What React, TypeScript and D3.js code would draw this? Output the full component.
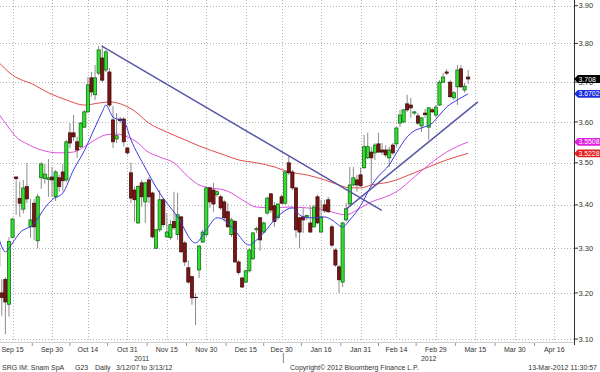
import React from "react";
import * as d3 from "d3";

// Snam SpA daily candles, index 0 = Sep 15 2011 (trading days, Dec 26 closed)
const firstIdx = -4;
const opens = [
  3.30, 3.20, 3.23, 3.175, 3.325, 3.466, 3.415, 3.39, 3.443, 3.349,
  3.404, 3.317, 3.464, 3.462, 3.46, 3.466, 3.419, 3.464, 3.478, 3.459,
  3.573, 3.573, 3.551, 3.539, 3.587, 3.625, 3.711, 3.668, 3.723, 3.762,
  3.731, 3.726, 3.605, 3.558, 3.607, 3.607, 3.536, 3.476, 3.435, 3.358,
  3.452, 3.407, 3.459, 3.428, 3.30, 3.342, 3.412, 3.326, 3.324, 3.361,
  3.331, 3.372, 3.312, 3.256, 3.236, 3.19, 3.251, 3.314, 3.331, 3.44,
  3.435, 3.424, 3.419, 3.407, 3.384, 3.331, 3.361, 3.269, 3.233, 3.224,
  3.249, 3.276, 3.342, 3.37, 3.337, 3.381, 3.426, 3.398, 3.37, 3.419,
  3.404, 3.50, 3.478, 3.44, 3.37, 3.372, 3.372, 3.358, 3.349, 3.419,
  3.337, 3.40, 3.412, 3.349, 3.296, 3.258, 3.224, 3.365, 3.402, 3.447,
  3.459, 3.471, 3.488, 3.512, 3.526, 3.524, 3.546, 3.531, 3.531, 3.512,
  3.543, 3.546, 3.597, 3.60, 3.645, 3.642, 3.622, 3.615, 3.59, 3.622,
  3.587, 3.63, 3.617, 3.642, 3.70, 3.726, 3.70, 3.66, 3.688, 3.734,
  3.68, 3.713,
];
const highs = [
  3.31, 3.23, 3.235, 3.325, 3.37, 3.467, 3.455, 3.459, 3.50, 3.414,
  3.414, 3.426, 3.502, 3.497, 3.509, 3.49, 3.483, 3.471, 3.497, 3.556,
  3.597, 3.617, 3.563, 3.60, 3.63, 3.713, 3.726, 3.744, 3.793, 3.796,
  3.783, 3.736, 3.64, 3.622, 3.612, 3.612, 3.539, 3.50, 3.443, 3.447,
  3.459, 3.454, 3.466, 3.431, 3.344, 3.435, 3.416, 3.381, 3.365, 3.431,
  3.428, 3.374, 3.317, 3.273, 3.238, 3.20, 3.307, 3.342, 3.443, 3.443,
  3.452, 3.435, 3.424, 3.412, 3.404, 3.37, 3.365, 3.273, 3.236, 3.251,
  3.30, 3.337, 3.349, 3.372, 3.361, 3.419, 3.428, 3.407, 3.404, 3.424,
  3.483, 3.519, 3.483, 3.443, 3.372, 3.393, 3.377, 3.398, 3.40, 3.424,
  3.412, 3.412, 3.419, 3.354, 3.30, 3.262, 3.361, 3.404, 3.49, 3.49,
  3.471, 3.488, 3.568, 3.573, 3.539, 3.548, 3.573, 3.548, 3.543, 3.539,
  3.548, 3.587, 3.63, 3.632, 3.668, 3.66, 3.627, 3.622, 3.612, 3.632,
  3.637, 3.635, 3.642, 3.705, 3.723, 3.733, 3.705, 3.678, 3.744, 3.744,
  3.698, 3.731,
];
const lows = [
  3.245, 3.15, 3.11, 3.148, 3.323, 3.377, 3.372, 3.38, 3.404, 3.324,
  3.319, 3.30, 3.438, 3.45, 3.419, 3.418, 3.409, 3.431, 3.433, 3.454,
  3.536, 3.553, 3.512, 3.536, 3.585, 3.622, 3.663, 3.655, 3.718, 3.70,
  3.726, 3.637, 3.536, 3.548, 3.597, 3.539, 3.519, 3.404, 3.36, 3.356,
  3.395, 3.358, 3.404, 3.322, 3.298, 3.337, 3.349, 3.324, 3.319, 3.342,
  3.319, 3.289, 3.26, 3.22, 3.174, 3.13, 3.233, 3.312, 3.326, 3.393,
  3.384, 3.419, 3.388, 3.361, 3.347, 3.326, 3.267, 3.24, 3.211, 3.222,
  3.245, 3.273, 3.335, 3.294, 3.335, 3.377, 3.381, 3.349, 3.365, 3.402,
  3.40, 3.471, 3.435, 3.324, 3.30, 3.335, 3.365, 3.335, 3.347, 3.356,
  3.335, 3.381, 3.381, 3.302, 3.258, 3.20, 3.213, 3.361, 3.40, 3.443,
  3.431, 3.443, 3.486, 3.509, 3.447, 3.507, 3.524, 3.519, 3.514, 3.49,
  3.519, 3.539, 3.587, 3.597, 3.625, 3.61, 3.617, 3.592, 3.575, 3.61,
  3.556, 3.622, 3.612, 3.64, 3.698, 3.718, 3.66, 3.655, 3.642, 3.685,
  3.673, 3.695,
];
const closes = [
  3.26, 3.19, 3.18, 3.315, 3.367, 3.462, 3.404, 3.44, 3.414, 3.365,
  3.349, 3.419, 3.497, 3.473, 3.464, 3.459, 3.478, 3.443, 3.457, 3.551,
  3.548, 3.563, 3.531, 3.597, 3.625, 3.693, 3.675, 3.711, 3.783, 3.705,
  3.778, 3.642, 3.551, 3.566, 3.603, 3.551, 3.524, 3.416, 3.412, 3.443,
  3.419, 3.452, 3.419, 3.326, 3.342, 3.412, 3.354, 3.337, 3.354, 3.347,
  3.377, 3.292, 3.269, 3.224, 3.189, 3.19, 3.305, 3.337, 3.44, 3.407,
  3.402, 3.431, 3.393, 3.37, 3.349, 3.365, 3.269, 3.245, 3.213, 3.249,
  3.296, 3.335, 3.345, 3.319, 3.358, 3.416, 3.388, 3.361, 3.402, 3.404,
  3.478, 3.476, 3.44, 3.342, 3.337, 3.365, 3.375, 3.337, 3.395, 3.358,
  3.372, 3.386, 3.384, 3.307, 3.262, 3.229, 3.358, 3.391, 3.447, 3.464,
  3.447, 3.445, 3.539, 3.539, 3.512, 3.543, 3.526, 3.526, 3.519, 3.531,
  3.524, 3.585, 3.617, 3.63, 3.63, 3.635, 3.625, 3.597, 3.61, 3.618,
  3.635, 3.625, 3.637, 3.70, 3.713, 3.723, 3.663, 3.673, 3.731, 3.688,
  3.69, 3.708,
];

// moving averages (trading-day index, value)
const fastIdx = [-4, -2, 0, 2, 6, 9, 11, 14, 17, 20, 23, 25, 26, 28, 30, 31, 33, 37, 41, 46, 51, 54, 57, 59, 62, 66, 67, 70, 73, 75, 78, 80, 82, 85, 87, 89, 92, 94, 97, 100, 102, 105, 107, 110, 112, 114, 117, 119, 121, 124, 127];
const fastVal = [3.328, 3.292, 3.312, 3.335, 3.356, 3.393, 3.412, 3.428, 3.483, 3.529, 3.587, 3.625, 3.642, 3.612, 3.605, 3.602, 3.556, 3.488, 3.428, 3.372, 3.312, 3.342, 3.37, 3.365, 3.34, 3.307, 3.312, 3.335, 3.365, 3.381, 3.393, 3.377, 3.37, 3.37, 3.372, 3.365, 3.349, 3.365, 3.398, 3.445, 3.468, 3.495, 3.524, 3.563, 3.578, 3.585, 3.597, 3.617, 3.637, 3.655, 3.6702];
const midIdx = [-4, -1, 1, 4, 8, 13, 17, 20, 24, 26, 29, 32, 35, 37, 41, 45, 49, 52, 55, 59, 61, 64, 68, 73, 77, 82, 87, 90, 93, 96, 100, 104, 107, 112, 116, 121, 127];
const midVal = [3.622, 3.585, 3.563, 3.546, 3.531, 3.524, 3.526, 3.539, 3.561, 3.568, 3.570, 3.563, 3.548, 3.531, 3.514, 3.50, 3.466, 3.447, 3.44, 3.435, 3.428, 3.412, 3.395, 3.393, 3.395, 3.393, 3.388, 3.381, 3.377, 3.388, 3.407, 3.419, 3.431, 3.466, 3.495, 3.526, 3.5508];
const slowIdx = [-4, 0, 6, 10, 15, 20, 24, 27, 31, 34, 38, 43, 48, 52, 59, 63, 68, 73, 77, 82, 87, 91, 94, 97, 100, 105, 112, 116, 121, 127];
const slowVal = [3.752, 3.718, 3.693, 3.673, 3.655, 3.642, 3.647, 3.650, 3.642, 3.627, 3.597, 3.575, 3.556, 3.541, 3.519, 3.507, 3.50, 3.49, 3.478, 3.471, 3.459, 3.447, 3.44, 3.44, 3.447, 3.454, 3.476, 3.49, 3.507, 3.5228];

// hand drawn trend lines
const trendAIdx = [24.9, 102.9];
const trendAVal = [3.793, 3.387];
const trendBIdx = [93, 129.7];
const trendBVal = [3.39, 3.65];

// axes
const priceTicks = [3.1, 3.2, 3.3, 3.4, 3.5, 3.6, 3.7, 3.8, 3.9];
const dateIdx = [0, 11, 21, 32, 43, 54, 65, 75, 86, 97, 107, 118, 129, 140, 151];
const dateLabels = ["Sep 15", "Sep 30", "Oct 14", "Oct 31", "Nov 15", "Nov 30", "Dec 15", "Dec 30", "Jan 16", "Jan 31", "Feb 14", "Feb 29", "Mar 15", "Mar 30", "Apr 16"];
const yearBreaks = [-3.5, 75.5, 156.5];
const yearLabels = ["2011", "2012"];

const PLOT_W = 574;
const PLOT_H = 343;
const FONT = "'Liberation Sans', Arial, sans-serif";

export default function App() {
  const x = d3.scaleLinear().domain([-3.5, 156.5]).range([0, PLOT_W]);
  const y = d3.scaleLog().domain([3.1, 3.9]).range([339, 5.7]);

  const line = d3
    .line<[number, number]>()
    .x((d) => x(d[0]))
    .y((d) => y(d[1]))
    .curve(d3.curveMonotoneX);
  const straight = d3
    .line<[number, number]>()
    .x((d) => x(d[0]))
    .y((d) => y(d[1]));

  const zip = (a: number[], b: number[]) => a.map((v, i) => [v, b[i]] as [number, number]);

  const candles = opens.map((o, k) => ({
    i: firstIdx + k,
    o,
    h: highs[k],
    l: lows[k],
    c: closes[k],
  }));

  const lastClose = closes[closes.length - 1];
  const tags = [
    { v: lastClose, text: d3.format(".3f")(lastClose), color: "#000000" },
    { v: fastVal[fastVal.length - 1], text: d3.format(".4f")(fastVal[fastVal.length - 1]), color: "#1c2fe0" },
    { v: midVal[midVal.length - 1], text: d3.format(".4f")(midVal[midVal.length - 1]), color: "#e01ee0" },
    { v: slowVal[slowVal.length - 1], text: d3.format(".4f")(slowVal[slowVal.length - 1]), color: "#e41e1e" },
  ];

  const minorIdx = dateIdx.slice(1).map((d, k) => (d + dateIdx[k]) / 2);

  return (
    <svg width={600} height={372} style={{ display: "block", background: "#fff" }}>
      <style>{"body{margin:0}"}</style>
      <defs>
        <clipPath id="plot">
          <rect x={0} y={0} width={PLOT_W} height={PLOT_H} />
        </clipPath>
      </defs>

      {/* grid */}
      <g stroke="#b4b4b4" strokeWidth={1} strokeDasharray="1,2">
        {priceTicks.map((t) => (
          <line key={t} x1={0} x2={PLOT_W} y1={Math.round(y(t)) + 0.5} y2={Math.round(y(t)) + 0.5} />
        ))}
        {dateIdx.map((d) => (
          <line key={d} x1={Math.round(x(d)) + 0.5} x2={Math.round(x(d)) + 0.5} y1={0} y2={PLOT_H} />
        ))}
      </g>
      <line x1={0} x2={PLOT_W} y1={PLOT_H - 0.5} y2={PLOT_H - 0.5} stroke="#d0d0d0" />

      <g clipPath="url(#plot)">
        {/* moving averages */}
        <path d={line(zip(slowIdx, slowVal)) || ""} fill="none" stroke="#e24a4a" strokeWidth={1} />
        <path d={line(zip(midIdx, midVal)) || ""} fill="none" stroke="#e050e0" strokeWidth={1} />

        {/* candles */}
        {candles.map((d) => {
          const cx = x(d.i);
          const up = d.c > d.o;
          const top = y(Math.max(d.o, d.c));
          const bot = y(Math.min(d.o, d.c));
          return (
            <g key={d.i}>
              <line x1={cx} x2={cx} y1={y(d.h)} y2={y(d.l)} stroke="#8c8c8c" strokeWidth={1} />
              {d.o === d.c ? (
                <line x1={cx - 2.5} x2={cx + 2.5} y1={top} y2={top} stroke="#111" strokeWidth={1} />
              ) : (
                <rect
                  x={cx - 1.6}
                  y={top}
                  width={3.2}
                  height={Math.max(1, bot - top)}
                  fill={up ? "#30e030" : "#7a1616"}
                  stroke={up ? "#0c5c0c" : "#3c0606"}
                  strokeWidth={0.7}
                />
              )}
            </g>
          );
        })}

        <path d={line(zip(fastIdx, fastVal)) || ""} fill="none" stroke="#3a3ae0" strokeWidth={1} />

        {/* trend lines */}
        <path d={straight(zip(trendAIdx, trendAVal)) || ""} fill="none" stroke="#5858a8" strokeWidth={1.5} />
        <path d={straight(zip(trendBIdx, trendBVal)) || ""} fill="none" stroke="#5858a8" strokeWidth={1.5} />
      </g>

      {/* right axis */}
      <line x1={PLOT_W + 0.5} x2={PLOT_W + 0.5} y1={0} y2={PLOT_H + 2} stroke="#303030" />
      {priceTicks.map((t) => (
        <g key={t}>
          <line x1={PLOT_W} x2={PLOT_W + 4} y1={y(t)} y2={y(t)} stroke="#303030" />
          <text x={PLOT_W + 4.5} y={y(t) + 2.6} fontSize={7.5} fontFamily={FONT} fill="#333">
            {d3.format(".2f")(t)}
          </text>
        </g>
      ))}

      {/* last value tags */}
      {tags.map((t) => {
        const cy = y(t.v);
        const hh = 3.9;
        return (
          <g key={t.text}>
            <polygon
              points={`${PLOT_W},${cy} ${PLOT_W + 4},${cy - hh} 600,${cy - hh} 600,${cy + hh} ${PLOT_W + 4},${cy + hh}`}
              fill={t.color}
            />
            <text
              x={PLOT_W + 4.5}
              y={cy + 2.6}
              fontSize={7.2}
              fontFamily={FONT}
              fill="#fff"
              textLength={t.text.length * 3.5}
              lengthAdjust="spacingAndGlyphs"
            >
              {t.text}
            </text>
          </g>
        );
      })}

      {/* bottom axis */}
      {minorIdx.map((d) => (
        <line key={d} x1={x(d)} x2={x(d)} y1={PLOT_H} y2={PLOT_H + 3} stroke="#999" />
      ))}
      {dateIdx.map((d, k) => (
        <text key={d} x={x(d)} y={352} fontSize={7} fontFamily={FONT} fill="#333" textAnchor="middle">
          {dateLabels[k]}
        </text>
      ))}
      {yearLabels.map((lab, k) => (
        <text
          key={lab}
          x={x((yearBreaks[k] + yearBreaks[k + 1]) / 2)}
          y={361}
          fontSize={7}
          fontFamily={FONT}
          fill="#333"
          textAnchor="middle"
        >
          {lab}
        </text>
      ))}
      <line x1={x(yearBreaks[1])} x2={x(yearBreaks[1])} y1={353} y2={363} stroke="#888" />

      {/* footer */}
      <g fontSize={7} fontFamily={FONT} fill="#333">
        <text x={2} y={370}>SRG IM: Snam SpA</text>
        <text x={75} y={370}>G23</text>
        <text x={95} y={370}>Daily</text>
        <text x={116} y={370}>3/12/07 to 3/13/12</text>
        <text x={290} y={370}>Copyright© 2012 Bloomberg Finance L.P.</text>
        <text x={597} y={370} textAnchor="end">13-Mar-2012 11:30:57</text>
      </g>
    </svg>
  );
}
